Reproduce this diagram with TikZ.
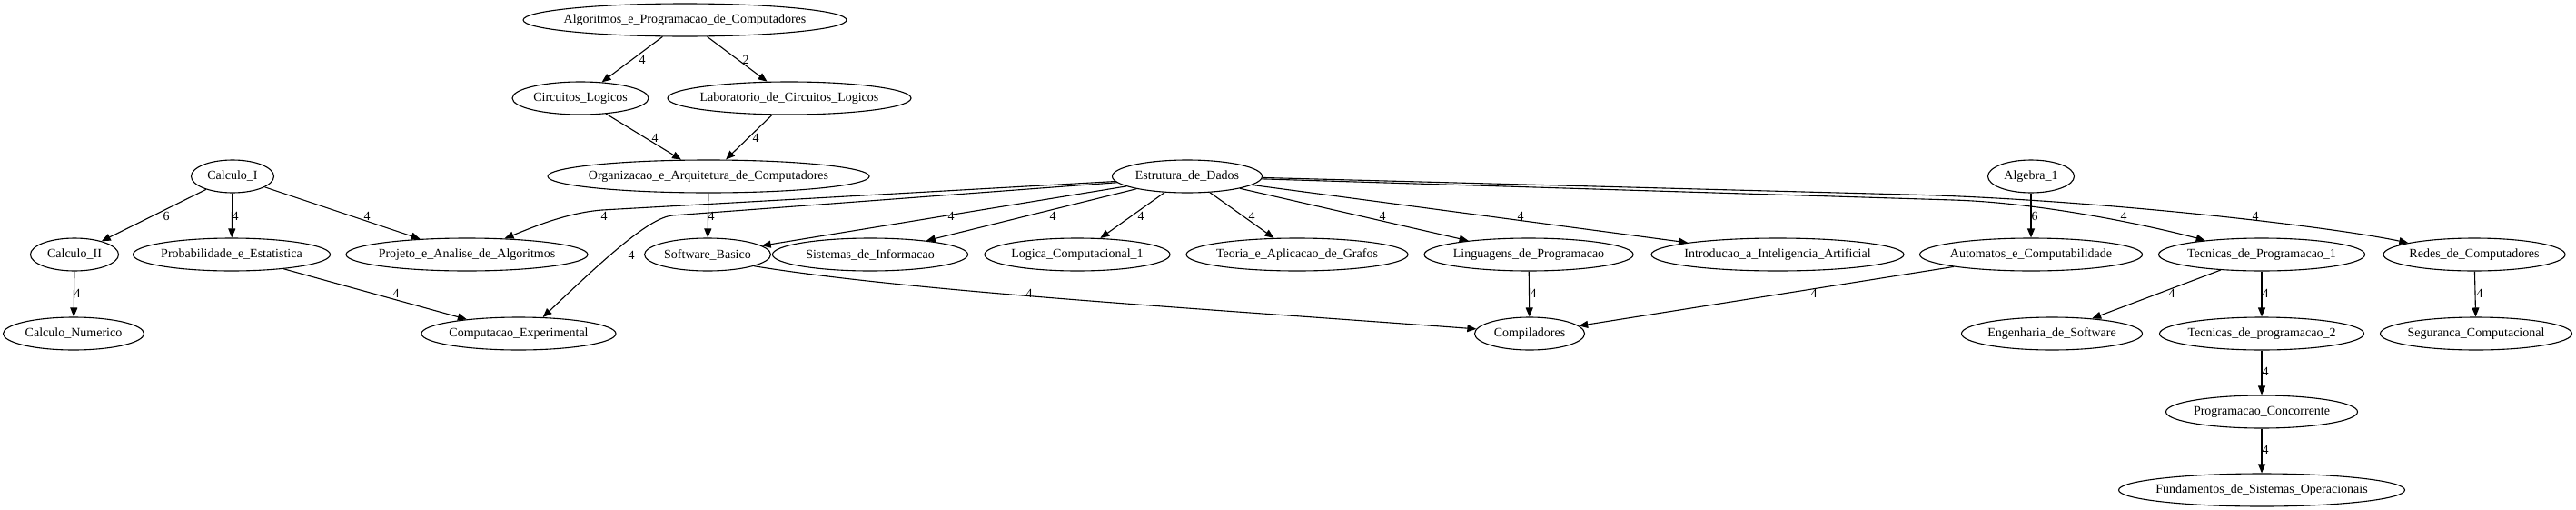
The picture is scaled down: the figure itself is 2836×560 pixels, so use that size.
\documentclass[tikz,border=0pt]{standalone}
\usepackage{fontspec}
\setmainfont{Liberation Serif}
\usepackage{tikz}
\usetikzlibrary{shapes.geometric,arrows.meta}

\tikzset{
  course/.style={draw, ellipse, line width=1.1pt, inner xsep=-8pt, inner ysep=2pt,
    minimum height=36pt, minimum width=#1, font=\fontsize{14}{16}\selectfont},
  edge/.style={line width=1.1pt, -{Triangle[length=10pt,width=8pt]}},
  lbl/.style={inner sep=0pt, font=\fontsize{14}{16}\selectfont}
}

\begin{document}
\begin{tikzpicture}[x=1pt, y=-1pt]
    \useasboundingbox (0,0) rectangle (2836,560);
    % Courses
    \node[course=356pt] (alg) at (754,22) {Algoritmos\_e\_Programacao\_de\_Computadores};
    \node[course=150pt] (circ) at (639,108) {Circuitos\_Logicos};
    \node[course=268pt] (lab) at (869,108) {Laboratorio\_de\_Circuitos\_Logicos};
    \node[course=91pt] (calcI) at (256,194) {Calculo\_I};
    \node[course=354pt] (org) at (780,194) {Organizacao\_e\_Arquitetura\_de\_Computadores};
    \node[course=165pt] (estr) at (1307,194) {Estrutura\_de\_Dados};
    \node[course=95pt] (alg1) at (2236,194) {Algebra\_1};
    \node[course=97pt] (calcII) at (82,280) {Calculo\_II};
    \node[course=217pt] (prob) at (255,280) {Probabilidade\_e\_Estatistica};
    \node[course=266pt] (proj) at (514,280) {Projeto\_e\_Analise\_de\_Algoritmos};
    \node[course=139pt] (sb) at (779,280) {Software\_Basico};
    \node[course=215pt] (sis) at (958,280) {Sistemas\_de\_Informacao};
    \node[course=204pt] (logc) at (1186,280) {Logica\_Computacional\_1};
    \node[course=244pt] (teo) at (1428,280) {Teoria\_e\_Aplicacao\_de\_Grafos};
    \node[course=230pt] (ling) at (1683,280) {Linguagens\_de\_Programacao};
    \node[course=278pt] (intro) at (1957,280) {Introducao\_a\_Inteligencia\_Artificial};
    \node[course=245pt] (auto) at (2236,280) {Automatos\_e\_Computabilidade};
    \node[course=227pt] (tec1) at (2490,280) {Tecnicas\_de\_Programacao\_1};
    \node[course=200pt] (redes) at (2724,280) {Redes\_de\_Computadores};
    \node[course=155pt] (calcN) at (81,367) {Calculo\_Numerico};
    \node[course=214pt] (compexp) at (571,367) {Computacao\_Experimental};
    \node[course=121pt] (comp) at (1684,367) {Compiladores};
    \node[course=199pt] (eng) at (2259,367) {Engenharia\_de\_Software};
    \node[course=225pt] (tec2) at (2490,367) {Tecnicas\_de\_programacao\_2};
    \node[course=211pt] (seg) at (2726,367) {Seguranca\_Computacional};
    \node[course=211pt] (pc) at (2490,453) {Programacao\_Concorrente};
    \node[course=315pt] (fund) at (2490,539) {Fundamentos\_de\_Sistemas\_Operacionais};

    % Prerequisites
    \draw[edge] (alg) -- (circ) node[lbl] at (707,66) {4};
    \draw[edge] (alg) -- (lab) node[lbl] at (821,66) {2};
    \draw[edge] (circ) -- (org) node[lbl] at (721,152) {4};
    \draw[edge] (lab) -- (org) node[lbl] at (832,152) {4};
    \draw[edge] (org) -- (sb) node[lbl] at (783,238) {4};
    \draw[edge] (calcI) -- (calcII) node[lbl] at (183,238) {6};
    \draw[edge] (calcI) -- (prob) node[lbl] at (259,238) {4};
    \draw[edge] (calcI) -- (proj) node[lbl] at (404,238) {4};
    \draw[edge] (calcII) -- (calcN) node[lbl] at (85,323) {4};
    \draw[edge] (prob) -- (compexp) node[lbl] at (436,323) {4};
    \draw[edge] (estr.184) -- (663,231) .. controls (623,234) and (584,251) .. (proj.23)
        node[lbl] at (665,238) {4};
    \draw[edge] (estr.185) -- (740,237) .. controls (715,240) and (670,280) .. (compexp.34)
        node[lbl] at (695,281) {4};
    \draw[edge] (estr) -- (sb) node[lbl] at (1047,238) {4};
    \draw[edge] (estr) -- (sis) node[lbl] at (1159,238) {4};
    \draw[edge] (estr) -- (logc) node[lbl] at (1256,238) {4};
    \draw[edge] (estr) -- (teo) node[lbl] at (1378,238) {4};
    \draw[edge] (estr) -- (ling) node[lbl] at (1522,238) {4};
    \draw[edge] (estr) -- (intro) node[lbl] at (1674,238) {4};
    \draw[edge] (estr.-2) -- (2150,220) .. controls (2250,223) and (2370,249) .. (tec1.166)
        node[lbl] at (2338,238) {4};
    \draw[edge] (estr.-1) -- (2100,214) .. controls (2300,219) and (2560,248) .. (redes.170)
        node[lbl] at (2483,238) {4};
    \draw[edge] (sb.-14) .. controls (1000,320) and (1300,338) .. (comp.175)
        node[lbl] at (1133,323) {4};
    \draw[edge] (ling) -- (comp) node[lbl] at (1688,323) {4};
    \draw[edge] (auto) -- (comp) node[lbl] at (1997,323) {4};
    \draw[edge] (alg1) -- (auto) node[lbl] at (2240,238) {6};
    \draw[edge] (tec1) -- (eng) node[lbl] at (2391,323) {4};
    \draw[edge] (tec1) -- (tec2) node[lbl] at (2494,323) {4};
    \draw[edge] (redes) -- (seg) node[lbl] at (2730,323) {4};
    \draw[edge] (tec2) -- (pc) node[lbl] at (2494,409) {4};
    \draw[edge] (pc) -- (fund) node[lbl] at (2494,495) {4};
\end{tikzpicture}
\end{document}
